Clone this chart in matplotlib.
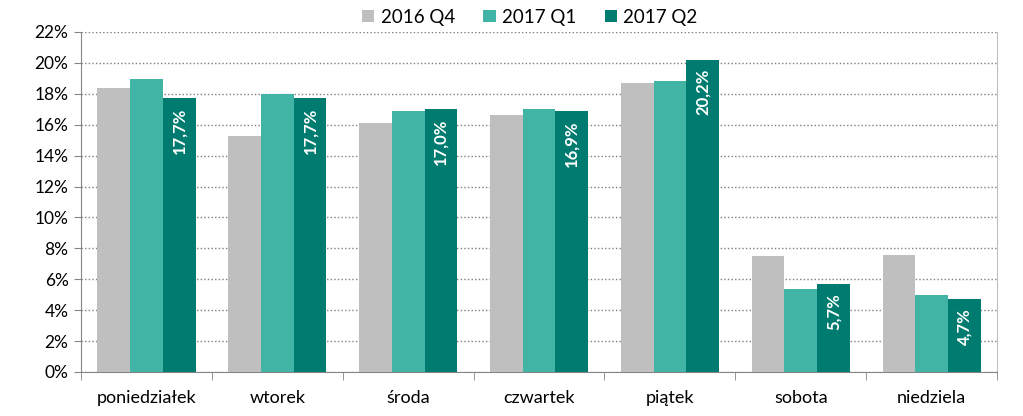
import matplotlib
matplotlib.use("Agg")
import matplotlib.pyplot as plt
import numpy as np
from matplotlib.ticker import FixedLocator

plt.rcParams['font.family'] = ['Lato', 'DejaVu Sans']

categories = ["poniedziałek", "wtorek", "środa", "czwartek", "piątek", "sobota", "niedziela"]
series_names = ["2016 Q4", "2017 Q1", "2017 Q2"]
q4_2016 = [18.4, 15.25, 16.1, 16.6, 18.7, 7.5, 7.55]
q1_2017 = [18.95, 18.0, 16.9, 17.05, 18.8, 5.4, 5.0]
q2_2017 = [17.7, 17.7, 17.0, 16.9, 20.2, 5.7, 4.7]
q2_labels = ["17,7%", "17,7%", "17,0%", "16,9%", "20,2%", "5,7%", "4,7%"]
colors = ["#BFBFBF", "#42B4A6", "#007B6F"]

fig = plt.figure(figsize=(10.23, 4.16), dpi=100)
ax = fig.add_axes([81/1023, 1-372/416, (997-81)/1023, (372-32)/416])

x = np.arange(len(categories))
w = 0.25
data = [q4_2016, q1_2017, q2_2017]
for i, (vals, name, c) in enumerate(zip(data, series_names, colors)):
    ax.bar(x + (i-1)*w, vals, width=w, color=c, label=name, zorder=3)

for xi, v, lab in zip(x, q2_2017, q2_labels):
    ax.text(xi + w, v - 0.6, lab, rotation=90, ha='center', va='top',
            color='white', fontsize=12, fontweight='bold', zorder=4)

ax.set_xlim(-0.5, len(categories)-0.5)
ax.set_ylim(0, 22)
ax.set_yticks(np.arange(0, 23, 2))
ax.set_yticklabels([f"{v}%" for v in range(0, 23, 2)], fontsize=12.5)
ax.yaxis.grid(True, linestyle=(0, (1, 1.6)), color='#7F7F7F', linewidth=1.0, zorder=0)
ax.set_axisbelow(True)

ax.set_xticks(x)
ax.set_xticklabels(categories, fontsize=13)
ax.tick_params(axis='x', which='major', length=0, pad=13)
ax.xaxis.set_minor_locator(FixedLocator(np.arange(-0.5, len(categories), 1)))
ax.tick_params(axis='x', which='minor', length=6, color='#868686', direction='out')
ax.tick_params(axis='y', length=5, color='#868686', pad=4)

ax.spines['top'].set_visible(False)
ax.spines['left'].set_color('#868686')
ax.spines['bottom'].set_color('#868686')
ax.spines['right'].set_color('#BFBFBF')

fig.legend(loc='upper center', bbox_to_anchor=(0.518, 1.02), ncol=3, frameon=False,
           fontsize=13.5, handlelength=0.65, handleheight=0.65, handletextpad=0.35,
           columnspacing=1.5)

fig.savefig("out.png", dpi=100)
